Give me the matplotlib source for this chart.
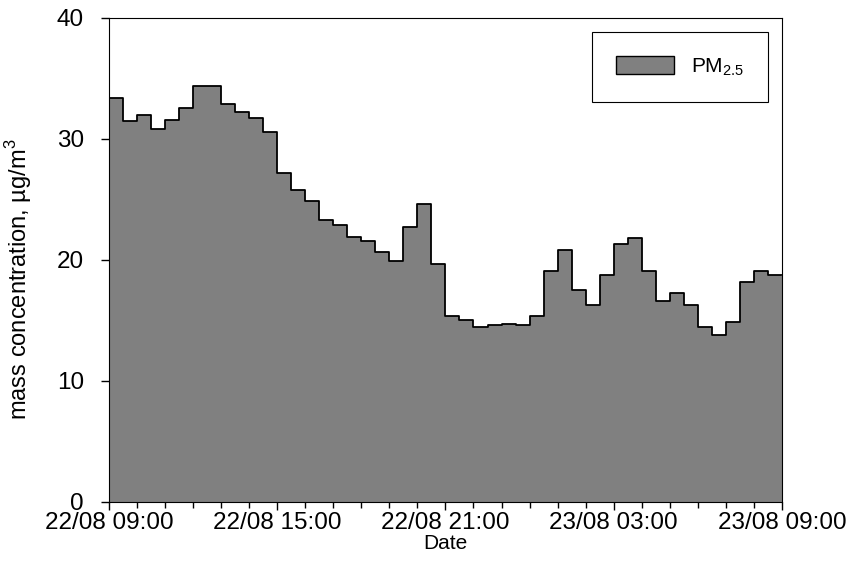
import numpy as np
import matplotlib
matplotlib.use("Agg")
import matplotlib.pyplot as plt
import matplotlib.dates as mdates
from matplotlib.patches import Patch
from datetime import datetime, timedelta

plt.rcParams['font.family'] = ['Liberation Sans', 'DejaVu Sans']
plt.rcParams['mathtext.fontset'] = 'custom'
plt.rcParams['mathtext.rm'] = 'Liberation Sans'

# half-hourly PM2.5 mass concentration, starting 22/08 09:00
start = datetime(2014, 8, 22, 9, 0)
pm25 = [33.4, 31.5, 32.0, 30.8, 31.6, 32.6, 34.4, 34.4, 32.9, 32.2,
        31.7, 30.6, 27.2, 25.8, 24.9, 23.3, 22.9, 21.9, 21.6, 20.7,
        19.9, 22.7, 24.6, 19.7, 15.4, 15.0, 14.5, 14.65, 14.7, 14.65,
        15.4, 19.1, 20.8, 17.5, 16.3, 18.8, 21.3, 21.8, 19.1, 16.6,
        17.3, 16.3, 14.5, 13.8, 14.9, 18.2, 19.1, 18.8]

times = [start + timedelta(minutes=30 * i) for i in range(len(pm25) + 1)]
vals = pm25 + [pm25[-1]]

fig = plt.figure(figsize=(8.54, 5.80), dpi=100)
ax = fig.add_axes([0.1276, 0.1345, 0.788, 0.8345])

ax.fill_between(times, vals, 0, step='post', color='#808080', linewidth=0)
ax.step(times, vals, where='post', color='black', linewidth=1.3)
ax.plot([times[-1], times[-1]], [0, vals[-1]], color='#808080', linewidth=1)

ax.set_xlim(times[0], times[-1])
ax.set_ylim(0, 40)
ax.set_yticks([0, 10, 20, 30, 40])

ax.xaxis.set_major_locator(mdates.HourLocator(byhour=[3, 9, 15, 21]))
ax.xaxis.set_minor_locator(mdates.HourLocator(interval=1))
ax.xaxis.set_major_formatter(mdates.DateFormatter('%d/%m %H:%M'))

ax.tick_params(axis='both', which='major', direction='out', length=6, width=1,
               labelsize=17.5)
ax.tick_params(axis='x', which='major', pad=1)
ax.tick_params(axis='y', which='major', pad=12)
ax.tick_params(axis='x', which='minor', direction='out', length=4, width=1)
ax.tick_params(top=False, right=False)

ax.set_xlabel('Date', fontsize=15, labelpad=0)
ax.set_ylabel(r'mass concentration, µg/m$^3$', fontsize=17)
ax.yaxis.set_label_coords(-0.112, 0.46)

handle = Patch(facecolor='#808080', edgecolor='black', linewidth=1)
leg = ax.legend([handle], [r'PM$_{2.5}$'], loc='upper right', fontsize=15,
                fancybox=False, framealpha=1, edgecolor='black',
                handlelength=2.8, handleheight=0.9, borderpad=1.15,
                borderaxespad=0.68, handletextpad=0.8)
leg.get_frame().set_linewidth(0.8)

fig.savefig('out.png', dpi=100)
